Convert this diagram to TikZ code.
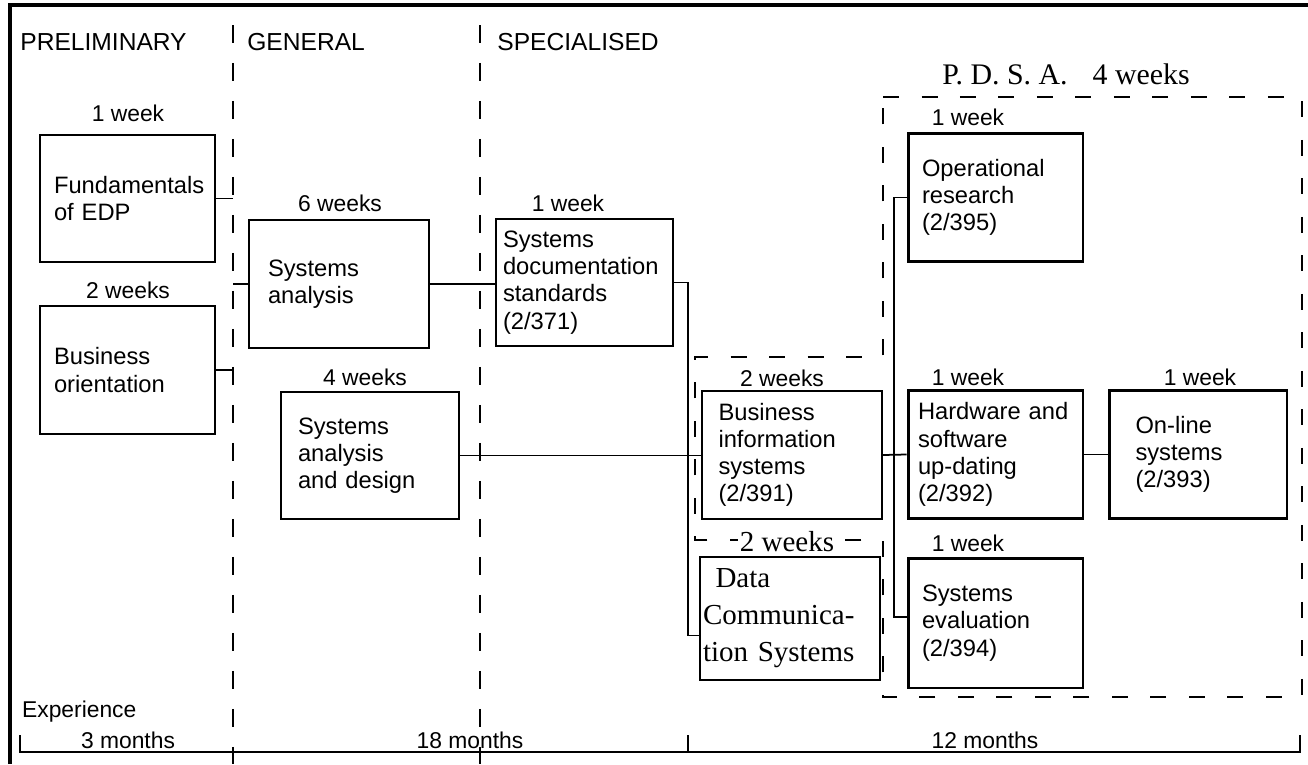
\documentclass[tikz,border=0pt]{standalone}
\usepackage{fontspec}
\setmainfont{Liberation Sans}
\newfontfamily\typeserif{Liberation Serif}
\usepackage{tikz}
\tikzset{
  course/.style={rectangle, draw=black, line width=1.2pt,
    minimum width=3.5cm, minimum height=2.55cm, text width=2.94cm,
    inner xsep=0pt, align=left, font=\fontsize{13.5}{15.5}\selectfont},
  pdsacourse/.style={course, line width=1.7pt},
  typed/.style={font=\typeserif\fontsize{16.5}{21}\selectfont},
  pdsatitle/.style={font=\typeserif\fontsize{17}{19}\selectfont},
  dur/.style={font=\fontsize{13}{15}\selectfont, inner sep=1pt},
  phase/.style={font=\fontsize{14}{16}\selectfont, anchor=west, inner sep=0pt},
  link/.style={line width=1pt},
  divider/.style={line width=1pt, dash pattern=on 0.36cm off 0.4cm},
  pdsabound/.style={line width=1pt, dash pattern=on 0.32cm off 0.45cm},
  frame/.style={line width=2pt}
}

\begin{document}
\begin{tikzpicture}[x=0.02cm, y=-0.02cm]
  \useasboundingbox (0,0) rectangle (1308,764);
  % frame
  \draw[frame] (10,764) -- (10,5) -- (1308,5);
  % phase dividers
  \coordinate (divA) at (233,25);
  \coordinate (divB) at (480,25);
  \draw[divider] (divA) -- (233,764);
  \draw[divider] (divB) -- (480,764);
  \node[phase] (prelim) at (20,42) {PRELIMINARY};
  \node[phase] (general) at (247,42) {GENERAL};
  \node[phase] (special) at (497,42) {SPECIALISED};
  % preliminary
  \node[course] (fund) at (127.5,198.5) {Fundamentals\\of EDP};
  \node[dur] (fundw) at (128,113) {1 week};
  \node[course] (busor) at (127.5,370) {Business\\orientation};
  \node[dur] (busorw) at (128,290) {2 weeks};
  % general
  \node[course, minimum width=3.6cm, text width=2.84cm] (sysan) at (339,284) {Systems\\analysis};
  \node[dur] (sysanw) at (340,203) {6 weeks};
  \node[course, minimum width=3.56cm, text width=2.88cm] (sysdes) at (370,455.5) {Systems\\analysis\\and design};
  \node[dur] (sysdesw) at (365,377) {4 weeks};
  % specialised
  \node[course, minimum width=3.54cm, text width=3.26cm] (docstd) at (584.5,282.5) {Systems\\documentation\\standards\\(2/371)};
  \node[dur] (docstdw) at (568,203) {1 week};
  \node[course, minimum width=3.6cm] (businfo) at (792,455) {Business\\information\\systems\\(2/391)};
  \node[dur] (businfow) at (782,378) {2 weeks};
  \node[course, typed, minimum width=3.6cm, minimum height=2.45cm, text width=3.48cm] (datacom) at (790,618.5) {\hspace{0.25cm}Data\\Communica-\\tion Systems};
  % P.D.S.A.
  \node[pdsacourse] (opres) at (995.5,197.5) {Operational\\research\\(2/395)};
  \node[dur] (opresw) at (968,117) {1 week};
  \node[pdsacourse, text width=3.1cm] (hwsw) at (995.5,454.5) {Hardware and\\software\\up-dating\\(2/392)};
  \node[dur] (hwsww) at (968,377) {1 week};
  \node[pdsacourse, minimum width=3.56cm, text width=2.5cm] (online) at (1198,454.5) {On-line\\systems\\(2/393)};
  \node[dur] (onlinew) at (1200,377) {1 week};
  \node[pdsacourse, minimum height=2.6cm] (syseval) at (995.5,623) {Systems\\evaluation\\(2/394)};
  \node[dur] (sysevalw) at (968,543) {1 week};
  \draw[pdsabound] (883,97) -- (1302,97) -- (1302,697) -- (883,697) -- (883,540)
    -- (695,540) -- (695,357) -- (883,357) -- cycle;
  \node[typed, fill=white, inner sep=1pt] (datacomw) at (787,542) {2 weeks};
  \node[pdsatitle] (pdsa) at (1066,74) {P. D. S. A.\hspace{0.5cm}4 weeks};
  % links
  \draw[link] (fund.east) -- (fund.east -| divA);
  \draw[link] (busor.east) -- (busor.east -| divA);
  \draw[link] (sysan.west -| divA) -- (sysan.west);
  \draw[link] (sysan.east) -- (sysan.east -| docstd.west);
  \coordinate (trunkA) at (688,286);
  \draw[link] (docstd.east) -- (docstd.east -| trunkA)
    -- ([yshift=-0.34cm]datacom.west -| trunkA) -- ([yshift=-0.34cm]datacom.west);
  \draw[link] (sysdes.east) -- (sysdes.east -| businfo.west);
  \draw[link] (businfo.east) -- (hwsw.west);
  \coordinate (trunkB) at (894,198);
  \draw[link] (opres.west) -- (opres.west -| trunkB)
    -- ([yshift=0.12cm]syseval.west -| trunkB) -- ([yshift=0.12cm]syseval.west);
  \draw[link] (hwsw.east) -- (online.west);
  % experience
  \node[dur, anchor=west] (exper) at (20,712) {Experience};
  \draw[link] (20,735) -- (20,752) -- (1300,752) -- (1300,735);
  \draw[link] (688,752) -- (688,735);
  \node[dur] (m3) at (128,740) {3 months};
  \node[dur] (m18) at (470,740) {18 months};
  \node[dur] (m12) at (985,740) {12 months};
\end{tikzpicture}
\end{document}
